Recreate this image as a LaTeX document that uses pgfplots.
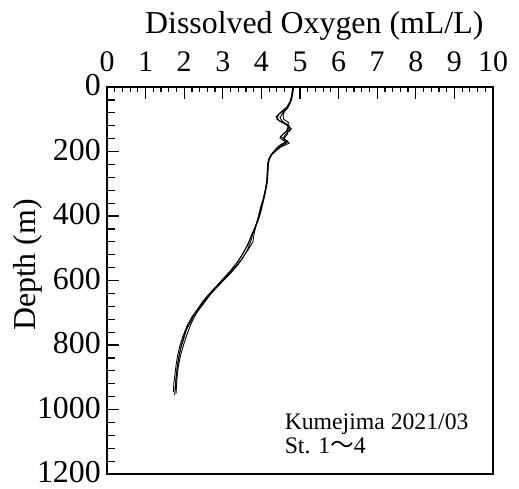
\documentclass[border=0pt]{standalone}
\usepackage{pgfplots}
\pgfplotsset{compat=1.18}
\usepackage{fontspec}
\setmainfont{Liberation Serif}
\newfontfamily\cjk{Noto Sans CJK JP}

\pgfplotstableread{
d do
0 4.82
10 4.81
25 4.79
40 4.77
55 4.72
70 4.62
85 4.45
100 4.40
112 4.60
125 4.74
140 4.62
153 4.50
168 4.68
180 4.52
190 4.42
200 4.32
212 4.24
225 4.19
240 4.17
260 4.16
280 4.15
300 4.14
320 4.11
344 4.06
370 4.00
400 3.94
437 3.83
460 3.74
489 3.65
515 3.53
540 3.40
565 3.24
592 3.06
612 2.88
633 2.72
660 2.54
685 2.38
710 2.22
737 2.10
770 2.00
799 1.93
830 1.87
860 1.83
890 1.80
920 1.78
955 1.75
}\stA

\pgfplotstableread{
d do
0 4.83
15 4.82
30 4.80
45 4.76
60 4.70
75 4.60
88 4.56
100 4.58
110 4.70
122 4.68
135 4.74
148 4.62
160 4.56
172 4.66
185 4.50
196 4.40
208 4.28
222 4.21
240 4.18
265 4.17
290 4.16
315 4.12
340 4.08
365 4.03
395 3.97
425 3.88
455 3.78
480 3.72
505 3.64
530 3.52
555 3.35
580 3.16
605 2.96
628 2.78
652 2.62
678 2.46
700 2.32
725 2.18
752 2.06
780 1.99
810 1.91
840 1.86
870 1.82
900 1.79
940 1.77
}\stB

\pgfplotstableread{
d do
0 4.81
12 4.80
28 4.78
45 4.74
62 4.66
78 4.50
92 4.38
105 4.46
118 4.66
130 4.78
145 4.56
158 4.48
170 4.62
182 4.46
194 4.36
206 4.28
220 4.20
238 4.16
262 4.15
290 4.14
318 4.10
345 4.05
372 3.98
402 3.92
430 3.86
455 3.81
480 3.78
500 3.68
525 3.54
550 3.40
575 3.22
600 3.02
622 2.84
645 2.66
668 2.52
692 2.36
718 2.24
745 2.14
775 2.05
805 1.97
835 1.90
865 1.85
895 1.82
925 1.80
950 1.79
}\stC

\pgfplotstableread{
d do
0 4.82
14 4.81
30 4.79
48 4.75
65 4.68
80 4.56
95 4.48
108 4.56
120 4.72
132 4.66
146 4.68
160 4.58
174 4.72
186 4.50
198 4.36
210 4.26
224 4.20
245 4.17
270 4.16
295 4.14
322 4.10
350 4.05
378 3.99
408 3.92
440 3.82
468 3.72
495 3.62
520 3.50
546 3.36
572 3.18
598 2.98
620 2.82
642 2.64
665 2.48
690 2.34
714 2.20
742 2.07
772 1.97
802 1.89
832 1.83
862 1.79
892 1.76
922 1.73
945 1.72
}\stD

\begin{document}
\begin{tikzpicture}
\useasboundingbox (-107bp,-15bp) rectangle (412bp,474bp);
\begin{axis}[
  scale only axis,
  width=386bp, height=387bp,
  xmin=0, xmax=10, ymin=0, ymax=1200,
  y dir=reverse,
  xtick={0,1,...,10}, ytick={0,200,...,1200},
  minor x tick num=4, minor y tick num=4,
  xtick pos=top, ytick pos=left,
  xticklabel pos=top,
  tick align=inside,
  major tick length=12bp,
  minor tick length=8bp,
  axis line style={line width=1.6bp},
  every tick/.style={black, line width=1.2bp},
  minor x tick style={/pgfplots/minor tick length=5bp},
  /pgf/number format/assume math mode=true,
  /pgf/number format/1000 sep={},
  xticklabel style={font=\fontsize{30}{30}\selectfont, anchor=base, yshift=16bp},
  yticklabel style={font=\fontsize{32}{32}\selectfont, anchor=east, inner xsep=0pt, inner ysep=0pt, xshift=-6bp, yshift=1.5bp},
  xlabel={Dissolved Oxygen (mL/L)},
  ylabel={Depth (m)},
  label style={font=\fontsize{32}{32}\selectfont},
  xlabel style={at={(axis description cs:0.537,1)}, anchor=base, yshift=54bp},
  ylabel style={at={(axis description cs:-0.184,0.54)}, anchor=base},
  clip=true,
]
\addplot[black, line width=0.9bp] table[x=do, y=d] {\stA};
\addplot[black, line width=0.9bp] table[x=do, y=d] {\stB};
\addplot[black, line width=0.9bp] table[x=do, y=d] {\stC};
\addplot[black, line width=0.9bp] table[x=do, y=d] {\stD};
\node[anchor=base west, font=\fontsize{23.8}{23.8}\selectfont, inner sep=0pt] at (axis cs:4.6,1063) {Kumejima 2021/03};
\node[anchor=base west, font=\fontsize{23.8}{23.8}\selectfont, inner sep=0pt] at (axis cs:4.6,1137) {St. 1{\cjk 〜}4};
\end{axis}
\end{tikzpicture}
\end{document}
